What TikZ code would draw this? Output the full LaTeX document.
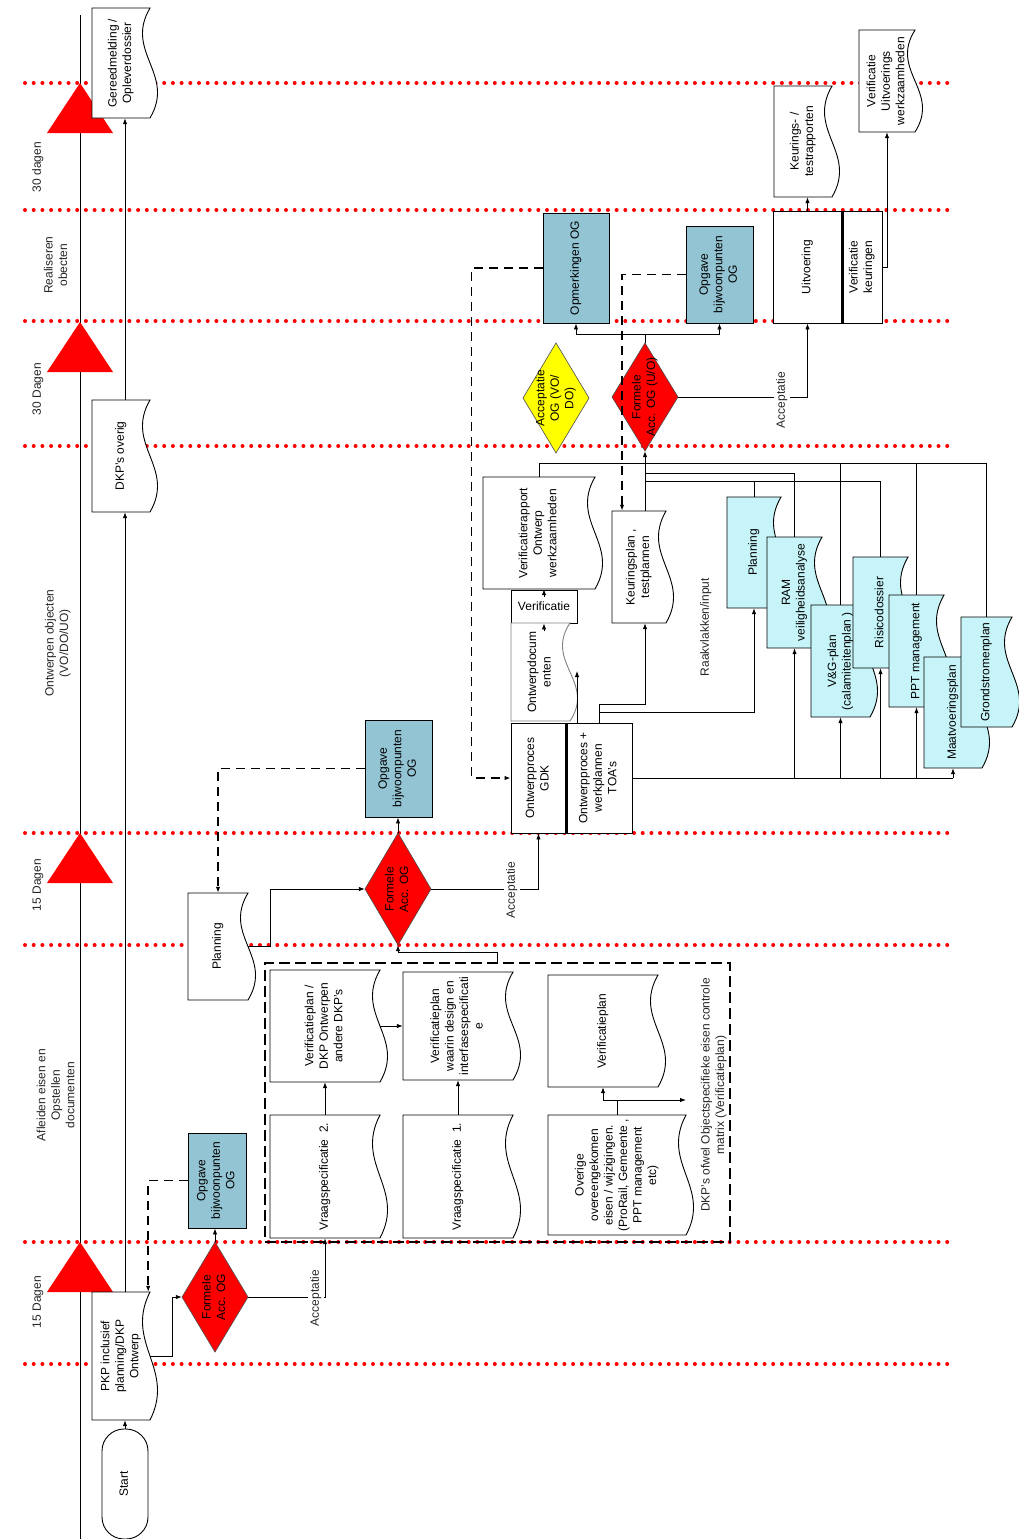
\documentclass[tikz,border=0pt]{standalone}
\usepackage{fontspec}
\setmainfont{Liberation Sans}
\usepackage{graphicx}
\usepackage{tikz}
\usetikzlibrary{arrows.meta, calc}
\definecolor{ogblue}{HTML}{93C4D3}
\definecolor{inputcyan}{HTML}{C6F4F8}
\definecolor{mijlrood}{HTML}{FF0000}
\definecolor{accgeel}{HTML}{FFFF00}

\newcommand{\rtxt}[1]{\rotatebox{90}{\begin{tabular}{@{}c@{}}#1\end{tabular}}}

\tikzset{
  boxtext/.style={inner sep=0pt, font=\fontsize{12}{14.5}\selectfont},
  recline/.style={boxtext, draw=black, line width=0.9pt},
  docline/.style={draw=black, line width=0.9pt},
  dialine/.style={draw=black!70, line width=0.6pt},
  lbl/.style={boxtext, text=black!85},
  acclbl/.style={lbl, fill=white, inner sep=1pt},
  contbox/.style={draw=black, line width=2.4pt, dash pattern=on 11pt off 5pt},
  scheiding/.style={line width=2.6pt},
  lijn/.style={line width=0.9pt},
  conn/.style={lijn, ->},
  dconn/.style={line width=1.8pt, dash pattern=on 9pt off 6pt, ->},
  reddots/.style={mijlrood, line width=4pt, line cap=round, dash pattern=on 0pt off 8.7pt},
  mijlpaal/.style={fill=mijlrood},
}

% document met golvende rechterkant: naam, opties, x0, y0, x1, y1, tekst
\newcommand{\docbox}[7]{%
  \filldraw[docline, #2] (#3,#6) -- (#3,#4) -- (#5,#4)
    .. controls +(-26,{0.4*(#6-#4)}) and +(26,{-0.4*(#6-#4)}) .. (#5,#6) -- cycle;
  \node[boxtext, minimum width={(#5-#3)*1pt}, minimum height={(#6-#4)*1pt}]
    (#1) at ({(#3+#5)/2},{(#4+#6)/2}) {\rtxt{#7}};}
% rechthoek
\newcommand{\recbox}[7]{%
  \node[recline, #2, minimum width={(#5-#3)*1pt}, minimum height={(#6-#4)*1pt}]
    (#1) at ({(#3+#5)/2},{(#4+#6)/2}) {\rtxt{#7}};}
% beslisruit: naam, opties, cx, cy, halve breedte, halve hoogte, tekst
\newcommand{\diabox}[7]{%
  \filldraw[dialine, #2] ({#3-#5},#4) -- (#3,{#4-#6}) -- ({#3+#5},#4) -- (#3,{#4+#6}) -- cycle;
  \node[boxtext, minimum width={2*#5*1pt}, minimum height={2*#6*1pt}] (#1) at (#3,#4) {\rtxt{#7}};}

\begin{document}
\begin{tikzpicture}[x=1pt, y=-1pt, >={Latex[length=6pt,width=4.5pt]}]
\fill[white] (0,0) rectangle (1019,1539);
\useasboundingbox (0,0) rectangle (1019,1539);

% tijdlijn, fasegrenzen en mijlpalen
\draw[lijn] (80,15) -- (80,1539);
\foreach \y in {83,210,321,446,833,945,1242,1364}
  \draw[reddots] (25,\y) -- (952,\y);
\foreach \y in {83,322,833,1242}
  \fill[mijlpaal] (80,\y) -- (113,\y+50) -- (47,\y+50) -- cycle;

\node[lbl] (l30a) at (38,167) {\rtxt{30 dagen}};
\node[lbl] (lreal) at (57,265) {\rtxt{Realiseren\\obecten}};
\node[lbl] (l30b) at (38,389) {\rtxt{30 Dagen}};
\node[lbl] (lontw) at (58,643) {\rtxt{Ontwerpen objecten\\(VO/DO/UO)}};
\node[lbl] (l15a) at (38,885) {\rtxt{15 Dagen}};
\node[lbl] (lafl) at (57,1095) {\rtxt{Afleiden eisen en\\Opstellen\\documenten}};
\node[lbl] (l15b) at (38,1302) {\rtxt{15 Dagen}};

% linker kolom
\docbox{gereed}{fill=white}{92}{8}{150}{118}{Gereedmelding /\\Opleverdossier}
\docbox{dkpov}{fill=white}{92}{400}{150}{512}{DKP's overig}
\docbox{pkp}{fill=white}{92}{1292}{150}{1420}{PKP inclusief\\planning/DKP\\Ontwerp}
\node[recline, fill=white, rounded corners=22pt, minimum width=46pt, minimum height=110pt]
  (start) at (125,1484) {\rtxt{Start}};

% afleiden eisen
\recbox{opg1}{fill=ogblue}{188}{1133}{246}{1228}{Opgave\\bijwoonpunten\\OG}
\diabox{fa1}{fill=mijlrood}{215}{1297}{33}{55}{Formele\\Acc. OG}
\node[contbox, minimum width=465pt, minimum height=279pt] (cont) at (497.5,1102.5) {};
\docbox{vraag2}{fill=white}{270}{1115}{380}{1238}{Vraagspecificatie~~2.}
\docbox{verdkp}{fill=white}{270}{970}{380}{1082}{Verificatieplan /\\DKP Ontwerpen\\andere DKP's}
\docbox{vraag1}{fill=white}{403}{1115}{513}{1238}{Vraagspecificatie~~1.}
\docbox{verwaar}{fill=white}{403}{972}{513}{1080}{Verificatieplan\\waarin design en\\interfasespecificati\\e}
\docbox{overige}{fill=white}{548}{1115}{686}{1235}{Overige\\overeengekomen\\eisen / wijzigingen.\\(ProRail, Gemeente ,\\PPT management\\etc)}
\docbox{verpl}{fill=white}{548}{975}{658}{1087}{Verificatieplan}
\node[lbl] (dkpmat) at (714,1095) {\rtxt{DKP's ofwel Objectspecifieke eisen controle\\matrix (Verificatieplan)}};

% ontwerpen
\docbox{plan}{fill=white}{188}{893}{248}{1000}{Planning}
\recbox{opg2}{fill=ogblue}{365}{720}{432}{817}{Opgave\\bijwoonpunten\\OG}
\diabox{fa2}{fill=mijlrood}{398}{889}{33}{56}{Formele\\Acc. OG}
\docbox{verrap}{fill=white}{483}{477}{595}{589}{Verificatierapport\\Ontwerp\\werkzaamheden}
\node[recline, fill=white, minimum width=66pt, minimum height=33pt] (verif) at (544,606.5) {Verificatie};
\docbox{ontdoc}{fill=white, draw=gray}{511}{623}{570}{721}{Ontwerpdocum\\enten}
\recbox{gdk}{fill=white}{511}{723}{566}{833}{Ontwerpproces\\GDK}
\recbox{toa}{fill=white}{566}{723}{632}{833}{Ontwerpproces +\\werkplannen\\TOA's}
\draw[scheiding] (gdk.north east) -- (gdk.south east);
\docbox{keurpl}{fill=white}{612}{511}{666}{623}{Keuringsplan ,\\testplannen}
\node[lbl] (raak) at (706,627) {\rtxt{Raakvlakken/input}};
\docbox{cplan}{fill=inputcyan}{727}{497}{781}{608}{Planning}
\docbox{ram}{fill=inputcyan}{767}{537}{822}{648}{RAM\\veiligheidsanalyse}
\docbox{vg}{fill=inputcyan}{811}{605}{870}{717}{V\&G-plan\\(calamiteitenplan )}
\docbox{risico}{fill=inputcyan}{853}{557}{908}{668}{Risicodossier}
\docbox{ppt}{fill=inputcyan}{889}{595}{944}{707}{PPT management}
\docbox{maat}{fill=inputcyan}{924}{657}{982}{768}{Maatvoeringsplan}
\docbox{grond}{fill=inputcyan}{961}{617}{1012}{727}{Grondstromenplan}
\diabox{accog}{fill=accgeel}{556}{398}{33}{55}{Acceptatie\\OG (VO/\\DO)}
\diabox{fa3}{fill=mijlrood}{645}{397}{33}{54}{Formele\\Acc. OG (U/O)}

% realiseren
\recbox{opm}{fill=ogblue}{543}{213}{609}{323}{Opmerkingen OG}
\recbox{opg3}{fill=ogblue}{686}{226}{753}{323}{Opgave\\bijwoonpunten\\OG}
\recbox{uitv}{fill=white}{773}{211}{842}{323}{Uitvoering}
\recbox{verk}{fill=white}{842}{211}{882}{323}{Verificatie\\keuringen}
\draw[scheiding] (uitv.north east) -- (uitv.south east);
\docbox{keur}{fill=white}{774}{86}{832}{197}{Keurings- /\\testrapporten}
\docbox{veruitv}{fill=white}{859}{30}{915}{132}{Verificatie\\Uitvoerings\\werkzaamheden}

% verbindingen linker kolom
\draw[conn] (start.north) -- (start.north |- pkp.south);
\draw[conn] (pkp.north -| start.north) -- (dkpov.south -| start.north);
\draw[conn] (dkpov.north -| start.north) -- (gereed.south -| start.north);

% verbindingen afleiden eisen
\draw[conn] (pkp.east) -- ++(22,0) |- (fa1.west);
\draw[conn] (fa1.north) -- (fa1.north |- opg1.south);
\draw[dconn] (opg1.west) -| ($(pkp.north east)+(-2,0)$);
\draw[conn] (fa1.east) -| (vraag2.south);
\draw[conn] (vraag2.north) -- (verdkp.south);
\draw[conn] (vraag1.north) -- (verwaar.south);
\draw[conn] (verdkp.east) -- (verwaar.west);
\coordinate (ovsplit) at (617,1100);
\coordinate (ovuit) at (686,1100);
\draw[lijn] (overige.north) -- (ovsplit);
\draw[conn] (ovsplit) -| (verpl.south);
\draw[conn] (ovsplit) -- (ovuit);

% verbindingen ontwerpen
\draw[conn] (cont.north) -- ++(0,-9) -| (fa2.south);
\draw[conn] (plan.east) -- ++(22,0) |- (fa2.west);
\draw[conn] (fa2.north) -- (fa2.north |- opg2.south);
\draw[dconn] (opg2.west) -| (plan.north);
\draw[conn] (fa2.east) -| (gdk.south);
\draw[dconn] (opm.west) -- ++(-71,0) |- (gdk.west);
\draw[conn] ($(verif.south)+(0,8)$) -- (verif.south);
\draw[conn] ($(verif.north)+(0,7)$) -- (verif.north |- verrap.south);
\coordinate (odin) at (577,671);
\draw[conn] (gdk.north east -| odin) -- (odin);
\draw[conn] (toa.north) -- ++(0,-18) -| (keurpl.south -| fa3.south);
\draw[conn] (toa.north) -- ++(0,-10) -| (cplan.south);
\draw[lijn] (toa.east) -- (toa.east -| maat.south);
\foreach \nm in {ram,vg,risico,ppt,maat}
  \draw[conn] (toa.east -| \nm.south) -- (\nm.south);

% terugkoppeling naar formele acceptatie U/O
\coordinate (fa3in) at ($(fa3.south)+(0,12)$);
\coordinate (busb) at ($(fa3.south)+(0,22)$);
\coordinate (busc) at ($(fa3.south)+(0,30)$);
\draw[conn] (keurpl.north -| fa3.south) -- (fa3.south);
\draw[lijn] (verrap.north) |- (fa3in);
\draw[lijn] (grond.north) |- (fa3in);
\foreach \nm in {vg,ppt}
  \draw[lijn] (\nm.north) -- (\nm.north |- fa3in);
\draw[lijn] (ram.north) |- (busb);
\draw[lijn] (risico.north) |- (busc);
\draw[lijn] (cplan.north) -- (cplan.north |- busc);

% verbindingen realiseren
\coordinate (fa3top) at ($(fa3.north)+(0,-8)$);
\draw[lijn] (fa3.north) -- (fa3top);
\draw[conn] (fa3top) -| (opm.south);
\draw[conn] (fa3top) -| (opg3.south);
\draw[dconn] (opg3.west) -| ($(keurpl.north)+(-17,0)$);
\draw[conn] (fa3.east) -| (uitv.south);
\draw[conn] (uitv.north) -- (uitv.north |- keur.south);
\draw[conn] (verk.east) -| (veruitv.south);

\node[acclbl] (acc1) at (316,1298) {\rtxt{Acceptatie}};
\node[acclbl] (acc2) at (512,890) {\rtxt{Acceptatie}};
\node[acclbl] (acc3) at (782,400) {\rtxt{Acceptatie}};
\end{tikzpicture}
\end{document}
